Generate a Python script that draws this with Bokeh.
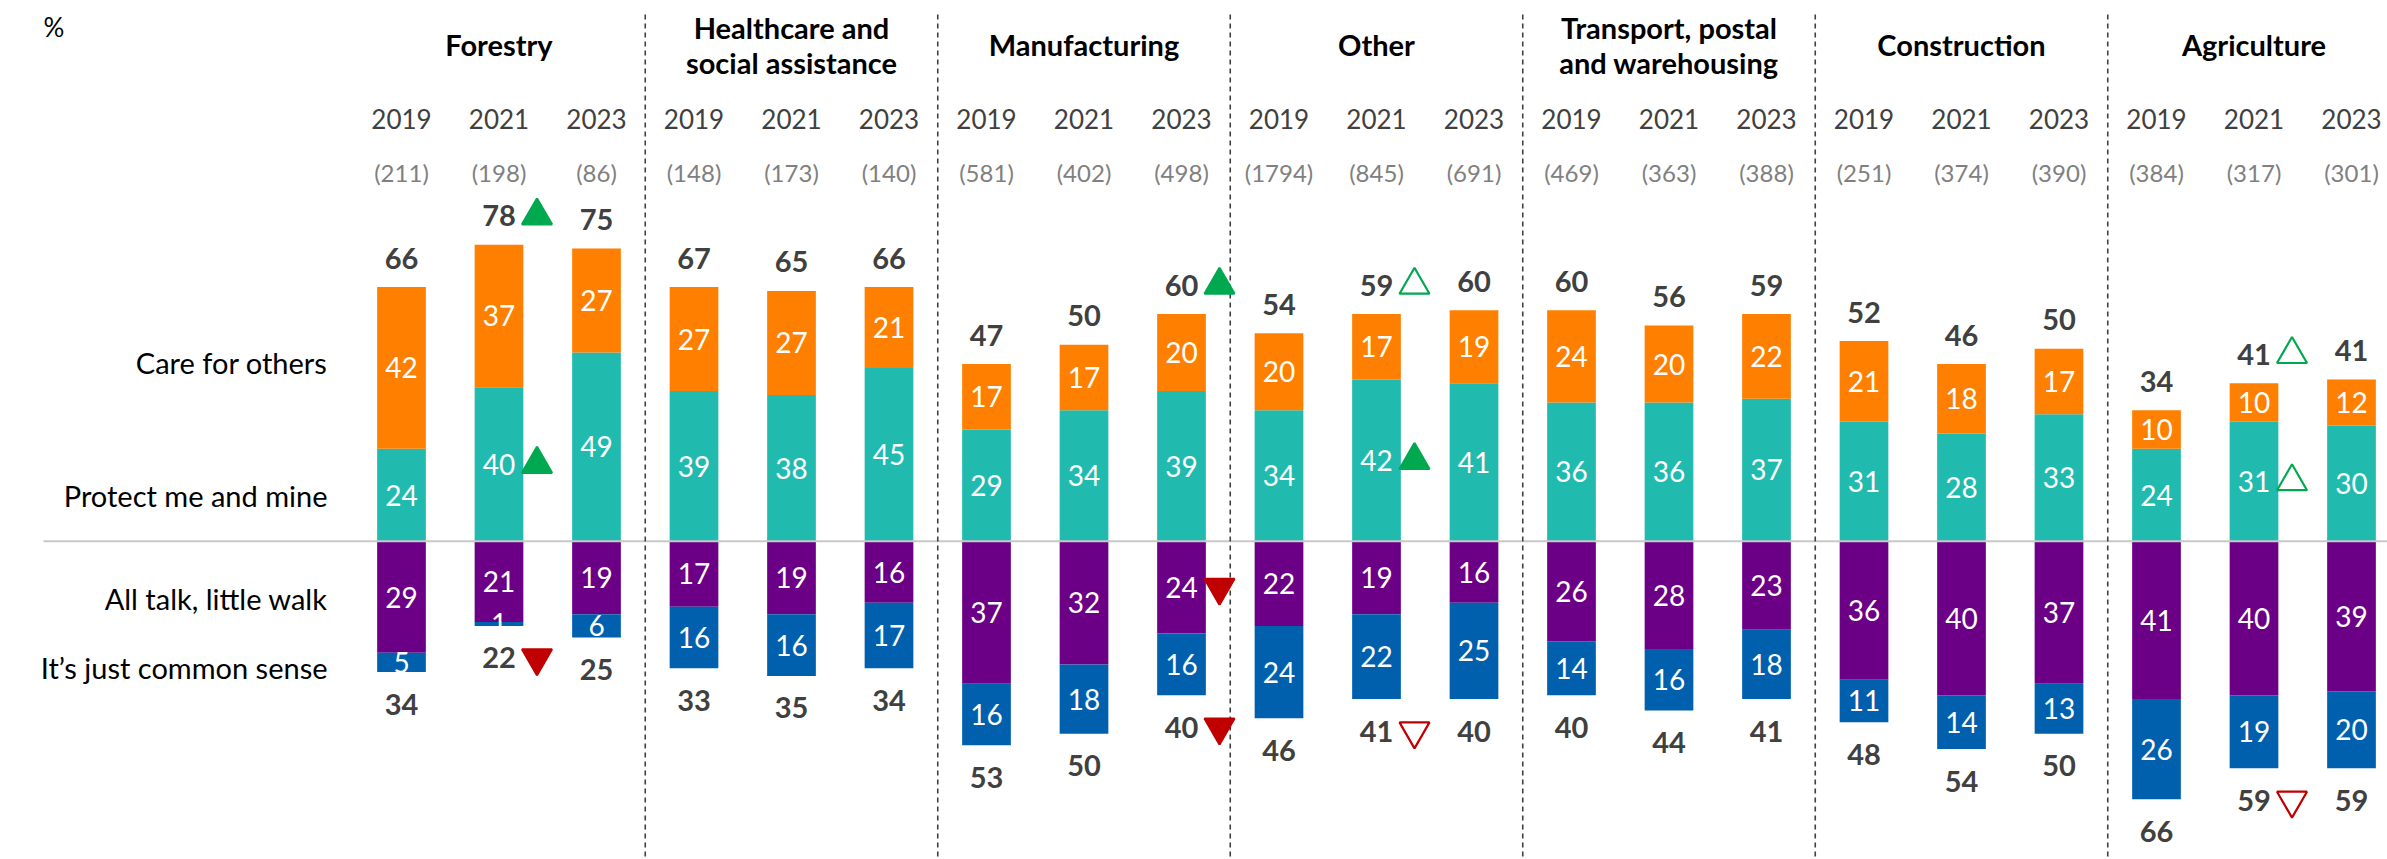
from bokeh.plotting import figure
from bokeh.models import ColumnDataSource
from bokeh.embed import file_html
from bokeh.resources import INLINE
from bokeh.core.properties import value

# ---------------- data ----------------
industries = ["Forestry", "Healthcare and\nsocial assistance", "Manufacturing", "Other",
              "Transport, postal\nand warehousing", "Construction", "Agriculture"]
years = ["2019", "2021", "2023"]
sample_sizes = ["(211)", "(198)", "(86)",
                "(148)", "(173)", "(140)",
                "(581)", "(402)", "(498)",
                "(1794)", "(845)", "(691)",
                "(469)", "(363)", "(388)",
                "(251)", "(374)", "(390)",
                "(384)", "(317)", "(301)"]
care_for_others = [42, 37, 27, 27, 27, 21, 17, 17, 20, 20, 17, 19, 24, 20, 22, 21, 18, 17, 10, 10, 12]
protect_me = [24, 40, 49, 39, 38, 45, 29, 34, 39, 34, 42, 41, 36, 36, 37, 31, 28, 33, 24, 31, 30]
all_talk = [29, 21, 19, 17, 19, 16, 37, 32, 24, 22, 19, 16, 26, 28, 23, 36, 40, 37, 41, 40, 39]
common_sense = [5, 1, 6, 16, 16, 17, 16, 18, 16, 24, 22, 25, 14, 16, 18, 11, 14, 13, 26, 19, 20]
net_positive = [66, 78, 75, 67, 65, 66, 47, 50, 60, 54, 59, 60, 60, 56, 59, 52, 46, 50, 34, 41, 41]
net_negative = [34, 22, 25, 33, 35, 34, 53, 50, 40, 46, 41, 40, 40, 44, 41, 48, 54, 50, 66, 59, 59]
row_labels = ["Care for others", "Protect me and mine", "All talk, little walk", "It\u2019s just common sense"]

# significance markers: bar index, which label, direction, filled
sig_bar = [1, 1, 1, 8, 8, 8, 10, 10, 10, 19, 19, 19]
sig_at = ["top", "protect", "bottom", "top", "talk", "bottom", "top", "protect", "bottom", "top", "protect", "bottom"]
sig_dir = ["up", "up", "down", "up", "down", "down", "up", "up", "down", "up", "up", "down"]
sig_filled = [True, True, True, True, True, True, False, True, False, False, False, False]

# ---------------- layout ----------------
W, H = 2387, 859
BAR_PX = 97.5          # px between bar centres
UNIT_PX = 3.85         # px per percentage point
FIRST_BAR = 401        # px of the first bar centre
ZERO = 540.7           # px of the zero line

x_start = -FIRST_BAR / BAR_PX
x_end = x_start + W / BAR_PX
y_end = ZERO / UNIT_PX
y_start = y_end - H / UNIT_PX

def xd(px):
    return (px - FIRST_BAR) / BAR_PX

def yd(py):
    return (ZERO - py) / UNIT_PX

ORANGE = "#FF7F00"
TEAL = "#21BAAF"
PURPLE = "#6B0087"
BLUE = "#0060AE"
GREEN = "#00A84F"
RED = "#C00000"
DARK = "#404040"
FONT = value("Lato")

p = figure(width=W, height=H, x_range=(x_start, x_end), y_range=(y_start, y_end),
           output_backend="svg", toolbar_location=None, min_border=0,
           x_axis_type=None, y_axis_type=None)
p.grid.visible = False
p.outline_line_color = None
p.background_fill_color = "white"
p.border_fill_color = "white"

n = len(protect_me)
xs = list(range(n))
bar_w = 48.7 / BAR_PX

protect_top = protect_me[:]
care_top = [a + b for a, b in zip(protect_me, care_for_others)]
talk_bot = [-a for a in all_talk]
sense_bot = [-(a + b) for a, b in zip(all_talk, common_sense)]

src = ColumnDataSource(dict(x=xs, protect=protect_top, care=care_top, talk=talk_bot, sense=sense_bot,
                            zero=[0] * n))

p.vbar(x="x", width=bar_w, bottom="zero", top="protect", source=src, fill_color=TEAL, line_color=None)
p.vbar(x="x", width=bar_w, bottom="protect", top="care", source=src, fill_color=ORANGE, line_color=None)
p.vbar(x="x", width=bar_w, bottom="talk", top="zero", source=src, fill_color=PURPLE, line_color=None)
p.vbar(x="x", width=bar_w, bottom="sense", top="talk", source=src, fill_color=BLUE, line_color=None)

# zero line
p.segment(x0=[xd(43)], y0=[0], x1=[x_end], y1=[0], line_color="#C8C8C8", line_width=2)

# separators
seps = [3 * g - 0.5 for g in range(1, len(industries))]
p.segment(x0=seps, y0=[yd(14)] * len(seps), x1=seps, y1=[y_start] * len(seps),
          line_color=DARK, line_width=1.6, line_dash="5 4")

# segment labels
seg_x, seg_y, seg_t = [], [], []
for i in xs:
    seg_x += [i, i, i, i]
    seg_y += [protect_me[i] / 2, protect_me[i] + care_for_others[i] / 2,
              -all_talk[i] / 2, -all_talk[i] - common_sense[i] / 2]
    seg_t += [str(protect_me[i]), str(care_for_others[i]), str(all_talk[i]), str(common_sense[i])]
p.text(x=seg_x, y=seg_y, text=seg_t, text_color="white", text_font=FONT, text_font_size="28px",
       text_align="center", text_baseline="middle")

# net labels
TOP_OFF = 29
BOT_OFF = 32
p.text(x=xs, y=care_top, text=[str(v) for v in net_positive], text_color=DARK, text_font=FONT,
       text_font_style="bold", text_font_size="29px", text_align="center", text_baseline="middle",
       y_offset=-TOP_OFF)
p.text(x=xs, y=sense_bot, text=[str(v) for v in net_negative], text_color=DARK, text_font=FONT,
       text_font_style="bold", text_font_size="29px", text_align="center", text_baseline="middle",
       y_offset=BOT_OFF)

# headers
for g, name in enumerate(industries):
    lines = name.split("\n")
    k = len(lines)
    for j, ln in enumerate(lines):
        p.text(x=[3 * g + 1], y=[yd(44 + (j - (k - 1) / 2) * 35)], text=[ln], text_color="black",
               text_font=FONT, text_font_style="bold", text_font_size="29px",
               text_align="center", text_baseline="middle")

p.text(x=xs, y=[yd(118)] * n, text=[years[i % 3] for i in xs], text_color=DARK, text_font=FONT,
       text_font_size="26px", text_align="center", text_baseline="middle")
p.text(x=xs, y=[yd(172)] * n, text=sample_sizes, text_color="#808080", text_font=FONT,
       text_font_size="24px", text_align="center", text_baseline="middle")

p.text(x=[xd(43)], y=[yd(26)], text=["%"], text_color="black", text_font=FONT,
       text_font_size="26px", text_align="left", text_baseline="middle")

# row labels
row_y = [yd(362), yd(495), yd(598), yd(667)]
p.text(x=[xd(327)] * 4, y=row_y, text=row_labels, text_color="black", text_font=FONT,
       text_font_size="29px", text_align="right", text_baseline="middle")

# significance markers
mx, my, mk, mfill, mline = [], [], [], [], []
for b, at, d, f in zip(sig_bar, sig_at, sig_dir, sig_filled):
    if at == "top":
        yy = care_top[b] + TOP_OFF / UNIT_PX
    elif at == "bottom":
        yy = sense_bot[b] - BOT_OFF / UNIT_PX
    elif at == "protect":
        yy = protect_me[b] / 2
    else:
        yy = -all_talk[b] / 2
    mx.append(b + 38 / BAR_PX)
    my.append(yy)
    mk.append("triangle" if d == "up" else "inverted_triangle")
    col = GREEN if d == "up" else RED
    mline.append(col)
    mfill.append(col if f else "white")
msrc = ColumnDataSource(dict(x=mx, y=my, marker=mk, fill=mfill, line=mline))
p.scatter(x="x", y="y", marker="marker", size=30, fill_color="fill", line_color="line",
          line_width=2.2, source=msrc)

open("out.html", "w").write(file_html(p, INLINE))
